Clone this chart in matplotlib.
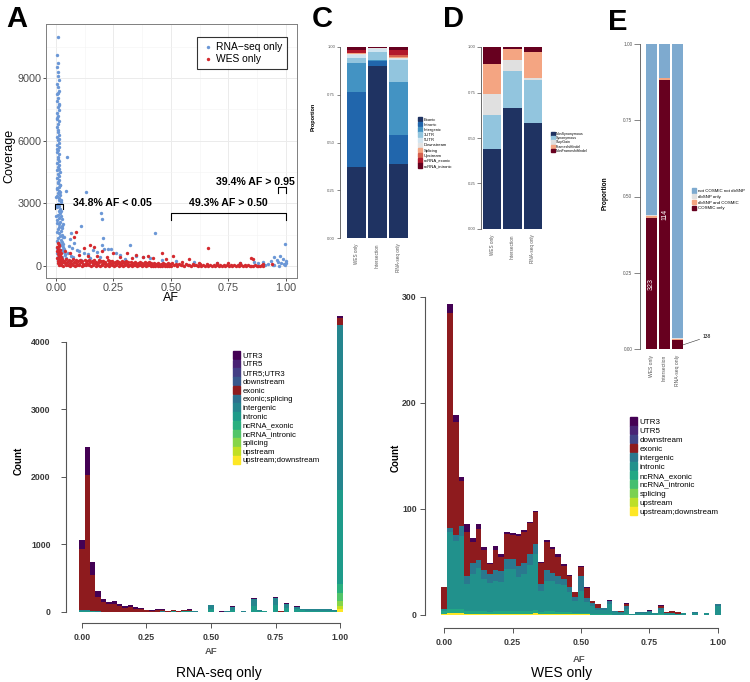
import numpy as np
import matplotlib
matplotlib.use("Agg")
import matplotlib.pyplot as plt
from matplotlib.patches import Patch

plt.rcParams['font.family'] = ['Liberation Sans', 'DejaVu Sans']

# ---------------- data ----------------
# A: coverage vs allele fraction
rna_af = [0.008, 0.006, 0.010, 0.005, 0.009, 0.007, 0.011, 0.004, 0.008, 0.012,
          0.006, 0.009, 0.005, 0.011, 0.007, 0.013, 0.004, 0.009, 0.006, 0.012,
          0.008, 0.005, 0.010, 0.007, 0.013, 0.004, 0.009, 0.011, 0.006, 0.014,
          0.008, 0.005, 0.012, 0.010, 0.007, 0.015, 0.004, 0.011, 0.009, 0.013,
          0.006, 0.016, 0.008, 0.012, 0.005, 0.014, 0.010, 0.007, 0.017, 0.011,
          0.004, 0.013, 0.009, 0.018, 0.006, 0.015, 0.011, 0.020, 0.008, 0.014,
          0.005, 0.019, 0.012, 0.016, 0.009, 0.022, 0.013, 0.006, 0.018, 0.011,
          0.024, 0.015, 0.008, 0.020, 0.013, 0.026, 0.017, 0.010, 0.023, 0.028,
          0.015, 0.021, 0.030, 0.012, 0.025, 0.034, 0.018, 0.038, 0.027, 0.042,
          0.022, 0.050,
          0.016, 0.003, 0.019, 0.002, 0.021, 0.003, 0.023, 0.002, 0.025, 0.003,
          0.027, 0.004, 0.029, 0.005, 0.032, 0.006, 0.036, 0.004, 0.040, 0.007,
          0.045, 0.010, 0.003, 0.015, 0.003, 0.014, 0.010,
          0.046, 0.043, 0.130, 0.196, 0.200, 0.204, 0.110, 0.430, 0.060, 0.080,
          0.055, 0.070, 0.090, 0.100, 0.120, 0.140, 0.160, 0.180, 0.210, 0.225,
          0.240, 0.260, 0.280, 0.320, 0.350, 0.380, 0.410, 0.460, 0.520, 0.600,
          0.700, 0.800, 0.860, 0.880, 0.900, 0.920, 0.935, 0.950, 0.960, 0.965,
          0.975, 0.980, 0.985, 0.990, 0.995, 0.998, 1.000, 0.997, 0.945, 0.970,
          0.050, 0.065, 0.035, 0.030, 0.075, 0.150, 0.190, 0.300, 0.110, 0.065,
          0.200, 0.950, 0.910]
rna_cov = [10950, 10100, 9730, 9500, 9280, 9080, 8900, 8720, 8550, 8380,
           8220, 8060, 7900, 7750, 7600, 7460, 7320, 7180, 7050, 6920,
           6790, 6650, 6520, 6400, 6280, 6150, 6020, 5900, 5790, 5680,
           5560, 5450, 5340, 5230, 5120, 5030, 4940, 4850, 4750, 4660,
           4570, 4480, 4400, 4310, 4220, 4130, 4040, 3950, 3870, 3780,
           3690, 3600, 3510, 3420, 3330, 3240, 3160, 3070, 2980, 2890,
           2810, 2720, 2630, 2540, 2460, 2370, 2280, 2200, 2110, 2020,
           1930, 1850, 1760, 1670, 1590, 1500, 1420, 1330, 1250, 1160,
           1080, 990, 910, 830, 750, 660, 580, 510, 420, 340,
           260, 180,
           3900, 3750, 3550, 3300, 3150, 2900, 2650, 2400, 2250, 2050,
           1800, 1650, 1380, 1200, 1050, 880, 800, 620, 560, 450,
           380, 300, 5600, 6100, 7100, 7700, 8300,
           5230, 3600, 3530, 2525, 2240, 1360, 1900, 1560, 1300, 1100,
           950, 850, 780, 700, 620, 560, 760, 680, 820, 800,
           790, 640, 540, 1000, 470, 420, 380, 300, 250, 180,
           150, 130, 200, 120, 180, 90, 260, 420, 310, 200,
           480, 140, 350, 80, 1045, 220, 130, 40, 60, 20,
           600, 500, 1400, 2000, 450, 400, 450, 350, 300, 1600,
           1000, 30, 50]

wes_af = [0.008, 0.012, 0.006, 0.015, 0.010, 0.018, 0.005, 0.013, 0.020, 0.008,
          0.016, 0.011, 0.022, 0.006, 0.014, 0.019, 0.009, 0.024, 0.012, 0.017,
          0.007, 0.021, 0.015,
          0.087, 0.080, 0.150, 0.165, 0.120, 0.200, 0.250, 0.310, 0.350, 0.380,
          0.400, 0.460, 0.510, 0.580, 0.660, 0.850, 0.855, 0.040, 0.060, 0.100,
          0.140, 0.180, 0.220, 0.280, 0.330, 0.420, 0.480, 0.550, 0.620, 0.700,
          0.750, 0.800, 0.900, 0.940,
          0.025, 0.029, 0.022, 0.035, 0.039, 0.032, 0.045, 0.049, 0.042, 0.055, 0.059, 0.052,
          0.065, 0.069, 0.062, 0.075, 0.079, 0.072, 0.085, 0.089, 0.082, 0.095, 0.099, 0.092,
          0.105, 0.109, 0.102, 0.115, 0.119, 0.112, 0.125, 0.129, 0.122, 0.135, 0.139, 0.132,
          0.145, 0.149, 0.142, 0.155, 0.159, 0.152, 0.165, 0.169, 0.162, 0.175, 0.179, 0.172,
          0.185, 0.189, 0.182, 0.195, 0.199, 0.192, 0.205, 0.209, 0.202, 0.215, 0.219, 0.212,
          0.225, 0.229, 0.222, 0.235, 0.239, 0.232, 0.245, 0.249, 0.242, 0.255, 0.259, 0.252,
          0.265, 0.269, 0.262, 0.275, 0.279, 0.272, 0.285, 0.289, 0.282, 0.295, 0.299, 0.292,
          0.305, 0.309, 0.302, 0.315, 0.319, 0.312, 0.325, 0.329, 0.322, 0.335, 0.339, 0.332,
          0.345, 0.349, 0.342, 0.355, 0.359, 0.352, 0.365, 0.369, 0.362, 0.375, 0.379, 0.372,
          0.385, 0.389, 0.382, 0.395, 0.399, 0.392, 0.405, 0.409, 0.402, 0.415, 0.419, 0.412,
          0.425, 0.429, 0.422, 0.435, 0.439, 0.432, 0.445, 0.449, 0.442, 0.455, 0.459, 0.452,
          0.465, 0.469, 0.462, 0.475, 0.479, 0.472, 0.485, 0.489, 0.482, 0.495, 0.499, 0.492,
          0.505, 0.512, 0.520, 0.527, 0.535, 0.542, 0.550, 0.557, 0.565, 0.572,
          0.580, 0.587, 0.595, 0.602, 0.610, 0.617, 0.625, 0.632, 0.640, 0.647,
          0.655, 0.662, 0.670, 0.677, 0.685, 0.692, 0.700, 0.707, 0.715, 0.722,
          0.730, 0.737, 0.745, 0.752, 0.760, 0.767, 0.775, 0.782, 0.790, 0.797,
          0.805, 0.812, 0.820, 0.827, 0.835, 0.842, 0.850, 0.857, 0.865, 0.872,
          0.880, 0.887, 0.895, 0.902]
wes_cov = [1100, 1000, 900, 950, 820, 760, 700, 650, 620, 560,
           520, 460, 430, 380, 340, 300, 260, 240, 200, 150,
           120, 90, 60,
           1620, 1390, 1000, 900, 850, 700, 620, 640, 550, 420,
           480, 640, 480, 330, 880, 400, 350, 700, 600, 550,
           500, 480, 450, 430, 390, 360, 320, 200, 160, 140,
           120, 150, 110, 90,
           330, 180, 40, 260, 120, 10, 350, 210, 70, 290, 150, 30,
           240, 100, 15, 320, 190, 60, 270, 130, 20, 230, 90, 40,
           300, 170, 50, 250, 110, 10, 280, 160, 70, 220, 90, 30,
           310, 180, 40, 240, 120, 10, 270, 150, 60, 210, 100, 20,
           290, 170, 50, 230, 110, 10, 260, 140, 60, 200, 90, 20,
           280, 160, 40, 220, 110, 15, 250, 130, 55, 190, 80, 20,
           240, 140, 45, 200, 100, 10, 230, 120, 50, 180, 80, 20,
           220, 110, 40, 170, 70, 15, 210, 100, 45, 160, 60, 10,
           200, 90, 40, 150, 60, 15, 190, 90, 35, 140, 50, 10,
           180, 80, 30, 130, 40, 10, 170, 70, 25, 120, 40, 5,
           160, 60, 20, 110, 30, 5, 150, 60, 20, 100, 30, 5,
           140, 50, 15, 90, 30, 5, 130, 50, 15, 80, 20, 5,
           120, 30, 90, 15, 110, 40, 70, 10, 100, 30,
           60, 10, 90, 25, 55, 10, 80, 20, 50, 5,
           75, 20, 45, 5, 70, 15, 40, 5, 65, 15,
           35, 5, 60, 15, 30, 5, 55, 10, 30, 5,
           50, 10, 25, 5, 45, 10, 20, 5, 40, 10,
           20, 5, 35, 10]

# B: stacked AF histograms, 49 bins centred on 0, 1/48, ..., 1
rna_cats = ['UTR3', 'UTR5', 'UTR5;UTR3', 'downstream', 'exonic', 'exonic;splicing',
            'intergenic', 'intronic', 'ncRNA_exonic', 'ncRNA_intronic', 'splicing',
            'upstream', 'upstream;downstream']
rna_utr3 = [138, 419, 192, 88, 49, 35, 40, 29, 25, 25, 20, 20, 8, 5, 8, 10, 2, 5, 1, 5,
            8, 3, 0, 0, 5, 0, 1, 1, 5, 0, 1, 0, 8, 1, 1, 0, 8, 0, 4, 0,
            3, 2, 1, 1, 1, 1, 1, 1, 40]
rna_exonic = [906, 2004, 537, 210, 140, 105, 115, 78, 58, 68, 44, 39, 22, 15, 25, 25, 8, 10, 3, 10,
              10, 5, 1, 0, 3, 0, 1, 2, 3, 0, 2, 0, 4, 2, 1, 0, 4, 1, 3, 0,
              2, 2, 1, 1, 2, 2, 1, 1, 100]
rna_intergenic = [10, 10, 6, 4, 3, 3, 3, 2, 2, 2, 2, 2, 2, 2, 3, 4, 2, 9, 3, 7,
                  10, 5, 2, 0, 50, 0, 3, 5, 38, 0, 5, 0, 95, 13, 10, 0, 105, 3, 60, 0,
                  38, 22, 18, 18, 20, 20, 18, 15, 2450]
rna_intronic = [10, 10, 6, 4, 2, 2, 2, 2, 2, 2, 1, 1, 1, 2, 2, 4, 2, 9, 2, 7,
                10, 6, 1, 0, 45, 0, 2, 5, 34, 0, 5, 0, 90, 12, 9, 0, 100, 3, 60, 0,
                37, 22, 18, 18, 20, 20, 18, 16, 1380]
rna_ncrna_exonic = [6, 6, 4, 2, 2, 2, 2, 1, 1, 1, 1, 1, 1, 1, 1, 1, 1, 1, 1, 1,
                    1, 1, 1, 0, 3, 0, 1, 1, 2, 0, 1, 0, 3, 1, 1, 0, 3, 1, 2, 0,
                    2, 1, 1, 1, 1, 1, 1, 1, 140]
# the remaining classes only show up in the AF = 1 bin
rna_last_bin = {'ncRNA_intronic': 120, 'splicing': 70, 'upstream': 50, 'upstream;downstream': 40}

wes_cats = ['UTR3', 'UTR5', 'downstream', 'exonic', 'intergenic', 'intronic',
            'ncRNA_exonic', 'ncRNA_intronic', 'splicing', 'upstream', 'upstream;downstream']
wes_utr3 = [0, 8, 6, 4, 8, 4, 5, 3, 1, 4, 2, 2, 2, 2, 2, 1, 1, 1, 2, 2,
            2, 2, 1, 0, 1, 1, 0, 0, 0, 1, 0, 0, 1, 0, 0, 0, 1, 0, 1, 0,
            0, 0, 0, 0, 0, 0, 0, 0, 0]
wes_exonic = [20, 203, 107, 42, 41, 20, 29, 19, 9, 19, 14, 23, 22, 28, 29, 30, 30, 20, 27, 22,
              18, 12, 11, 5, 8, 9, 2, 3, 0, 0, 0, 1, 2, 0, 0, 0, 0, 0, 1, 1,
              2, 2, 0, 0, 0, 0, 0, 0, 0]
wes_intergenic = [0, 4, 5, 10, 8, 10, 8, 8, 9, 10, 10, 10, 10, 10, 10, 10, 10, 6, 10, 8,
                  8, 6, 4, 4, 14, 4, 3, 2, 2, 3, 1, 1, 2, 0, 1, 1, 1, 0, 2, 0,
                  0, 0, 0, 0, 1, 0, 0, 0, 2]
wes_intronic = [2, 72, 64, 68, 25, 35, 40, 30, 27, 28, 27, 39, 39, 32, 35, 43, 52, 20, 28, 28,
                26, 25, 19, 11, 21, 10, 7, 4, 4, 9, 3, 2, 5, 1, 2, 2, 3, 2, 4, 2,
                2, 1, 2, 0, 2, 0, 2, 0, 8]
wes_ncrna_exonic = [3, 4, 4, 4, 3, 3, 3, 3, 2, 3, 3, 3, 3, 3, 3, 3, 3, 2, 3, 3,
                    2, 2, 2, 1, 1, 1, 1, 1, 1, 1, 0, 0, 1, 0, 0, 0, 0, 0, 1, 0,
                    0, 0, 0, 0, 0, 0, 0, 0, 0]
wes_updown = [1, 2, 2, 2, 1, 1, 1, 1, 1, 1, 1, 1, 1, 1, 1, 1, 2, 1, 1, 1,
              1, 1, 1, 1, 1, 1, 0, 0, 0, 0, 0, 0, 0, 0, 0, 0, 0, 0, 0, 0,
              0, 0, 0, 0, 0, 0, 0, 0, 0]

# C, D, E: proportions per group
groups = ['WES only', 'Intersection', 'RNA-seq only']
c_cats = ['Exonic', 'Intronic', 'Intergenic', '3UTR', '5UTR', 'Downstream',
          'Splicing', 'Upstream', 'ncRNA_exonic', 'ncRNA_intronic']
c_wes = [0.373, 0.389, 0.156, 0.022, 0.020, 0.003, 0.003, 0.004, 0.014, 0.016]
c_inter = [0.898, 0.028, 0.004, 0.042, 0.015, 0.007, 0.001, 0.001, 0.001, 0.003]
c_rna = [0.390, 0.150, 0.275, 0.117, 0.004, 0.005, 0.007, 0.009, 0.026, 0.017]

d_cats = ['NonSynonymous', 'Synonymous', 'StopGain', 'FrameshiftIndel', 'NonFrameshiftIndel']
d_wes = [0.437, 0.188, 0.117, 0.167, 0.091]
d_inter = [0.665, 0.203, 0.059, 0.060, 0.013]
d_rna = [0.585, 0.235, 0.012, 0.141, 0.027]

e_cats = ['COSMIC only', 'dbSNP and COSMIC', 'dbSNP only', 'not COSMIC not dbSNP']
e_wes = [0.428, 0.008, 0.002, 0.562]
e_inter = [0.882, 0.008, 0.000, 0.110]
e_rna = [0.030, 0.004, 0.002, 0.964]
e_counts = [323, 114, 138]

# ---------------- styles ----------------
BLUE = '#6b97d6'
RED = '#d42a2f'
EXON_RED = '#8e1b1e'
c_colors = ['#1f3362', '#2166ac', '#4393c3', '#92c5de', '#d1e5f0', '#e3e3e3',
            '#f4a582', '#d6604d', '#b2182b', '#67001f']
d_colors = ['#1f3362', '#92c5de', '#e0e0e0', '#f4a582', '#67001f']
e_colors = ['#67001f', '#f4a582', '#e0e0e0', '#7eaacf']

W, H = 750, 682
fig = plt.figure(figsize=(7.5, 6.82), dpi=100)


def px_axes(l, t, r, b):
    return fig.add_axes([l / W, 1 - b / H, (r - l) / W, (b - t) / H])


def fx(x):
    return x / W


def fy(y):
    return 1 - y / H


# ---------------- panel A ----------------
ax = px_axes(46, 24, 297, 278)
ax.scatter(rna_af, rna_cov, s=6, color=BLUE, lw=0, label='RNA\u2212seq only', zorder=2)
ax.scatter(wes_af, wes_cov, s=6, color=RED, lw=0, label='WES only', zorder=3)
ax.set_xlim(-0.0435, 1.048)
ax.set_ylim(-574, 11580)
ax.set_xticks([0, 0.25, 0.5, 0.75, 1.0])
ax.set_xticklabels(['0.00', '0.25', '0.50', '0.75', '1.00'])
ax.set_yticks([0, 3000, 6000, 9000])
ax.set_xticks([0.125, 0.375, 0.625, 0.875], minor=True)
ax.set_yticks([1500, 4500, 7500, 10500], minor=True)
ax.grid(which='major', color='#ebebeb', lw=0.7)
ax.grid(which='minor', color='#f3f3f3', lw=0.4)
ax.set_axisbelow(True)
ax.tick_params(which='minor', length=0)
ax.tick_params(which='major', length=2.5, width=0.6, color='#333333',
               labelsize=7.8, labelcolor='#4d4d4d', pad=0.8)
for s in ax.spines.values():
    s.set_color('#7f7f7f')
    s.set_linewidth(0.7)
fig.text(fx(9), fy(156), 'Coverage', rotation=90, ha='center', va='center', fontsize=9)
fig.text(fx(171), fy(292), 'AF', ha='center', va='top', fontsize=9)

leg = ax.legend(loc='upper right', bbox_to_anchor=((287 - 46) / 251, 1 - (37 - 24) / 254),
                fontsize=7.4, frameon=True, fancybox=False, edgecolor='black',
                handletextpad=0.2, borderpad=0.45, labelspacing=0.25, handlelength=1.2,
                borderaxespad=0)
leg.get_frame().set_linewidth(0.8)


def bracket(x0, x1, ytop, ybot):
    ax.plot([x0, x0, x1, x1], [ybot, ytop, ytop, ybot], color='black', lw=0.8, zorder=4)


bracket(-0.003, 0.032, 2970, 2730)
bracket(0.5, 1.0, 2520, 2200)
bracket(0.967, 1.0, 3765, 3480)
ax.text(0.072, 3000, '34.8% AF < 0.05', fontsize=7.6, fontweight='bold', ha='left', va='center')
ax.text(0.75, 3000, '49.3% AF > 0.50', fontsize=7.6, fontweight='bold', ha='center', va='center')
ax.text(0.868, 4030, '39.4% AF > 0.95', fontsize=7.6, fontweight='bold', ha='center', va='center')

# ---------------- panel B ----------------
centers = np.linspace(0, 1, 49)
# viridis over the non-exonic classes, exonic shown in dark red
vir_rna = [plt.cm.viridis(v) for v in np.linspace(0, 1, 12)]
vir_rna.insert(4, EXON_RED)
vir_wes = [plt.cm.viridis(v) for v in np.linspace(0, 1, 11)]
vir_wes[3] = EXON_RED


def stack(axh, layers, colors):
    bottom = np.zeros(len(centers))
    for vals, col in zip(layers, colors):
        vals = np.asarray(vals, dtype=float)
        axh.bar(centers, vals, width=1 / 48, bottom=bottom, color=col, lw=0, align='center')
        bottom += vals


def r_axes(axh, ymax, ystep, ypad):
    for s in ['top', 'right']:
        axh.spines[s].set_visible(False)
    axh.spines['left'].set_bounds(0, ymax)
    axh.spines['bottom'].set_bounds(0, 1)
    for s in ['left', 'bottom']:
        axh.spines[s].set_color('#555555')
        axh.spines[s].set_linewidth(0.8)
    axh.set_yticks(np.arange(0, ymax + 1, ystep))
    axh.set_xticks([0, 0.25, 0.5, 0.75, 1.0])
    axh.set_xticklabels(['0.00', '0.25', '0.50', '0.75', '1.00'])
    axh.tick_params(length=3.5, width=0.7, color='#555555', labelsize=6.3, labelcolor='#3a3a3a')
    axh.tick_params(axis='y', pad=ypad)
    axh.tick_params(axis='x', pad=4)
    for lab in axh.get_xticklabels() + axh.get_yticklabels():
        lab.set_fontweight('bold')


def last_only(v):
    vals = np.zeros(49)
    vals[-1] = v
    return vals


# left: RNA-seq only, stacked from the bottom class upwards
axl = px_axes(66, 300, 356, 623)
zero = np.zeros(49)
rna_layers = [last_only(rna_last_bin['upstream;downstream']), last_only(rna_last_bin['upstream']),
              last_only(rna_last_bin['splicing']), last_only(rna_last_bin['ncRNA_intronic']),
              rna_ncrna_exonic, rna_intronic, rna_intergenic, zero, rna_exonic,
              zero, zero, zero, rna_utr3]
stack(axl, rna_layers, vir_rna[::-1])
axl.set_xlim(-0.062, 1.062)
axl.set_ylim(-163, 4622)
r_axes(axl, 4000, 1000, 7.5)
axl.legend([Patch(color=c) for c in vir_rna], rna_cats, loc='upper left',
           bbox_to_anchor=(fx(233), fy(351)), bbox_transform=fig.transFigure,
           fontsize=5.6, frameon=False, handlelength=0.9, handleheight=1.25,
           labelspacing=0.0, handletextpad=0.3, borderpad=0, borderaxespad=0)
fig.text(fx(19), fy(461), 'Count', rotation=90, ha='center', va='center', fontsize=7, fontweight='bold')
fig.text(fx(211), fy(652), 'AF', ha='center', va='center', fontsize=6.8, fontweight='bold', color='#555555')
fig.text(fx(219), fy(673), 'RNA-seq only', ha='center', va='center', fontsize=10)

# right: WES only
axr = px_axes(425, 285, 735, 628)
wes_layers = [wes_updown, zero, zero, zero, wes_ncrna_exonic, wes_intronic, wes_intergenic,
              wes_exonic, zero, zero, wes_utr3]
stack(axr, wes_layers, vir_wes[::-1])
axr.set_xlim(-0.0706, 1.063)
axr.set_ylim(-12.3, 311)
r_axes(axr, 300, 100, 2.5)
axr.legend([Patch(color=c) for c in vir_wes], wes_cats, loc='upper left',
           bbox_to_anchor=(fx(630), fy(417)), bbox_transform=fig.transFigure,
           fontsize=5.8, frameon=False, handlelength=0.9, handleheight=1.25,
           labelspacing=0.0, handletextpad=0.3, borderpad=0, borderaxespad=0)
fig.text(fx(396), fy(458), 'Count', rotation=90, ha='center', va='center', fontsize=7, fontweight='bold')
fig.text(fx(579), fy(659), 'AF', ha='center', va='center', fontsize=6.8, fontweight='bold', color='#555555')
fig.text(fx(562), fy(673), 'WES only', ha='center', va='center', fontsize=10)

# ---------------- panels C, D, E ----------------
def prop_panel(box, xlim, cols, colors, width, tick_len, xfs):
    axp = px_axes(*box)
    bottom = np.zeros(3)
    for i, col in enumerate(colors):
        vals = np.array([cols[0][i], cols[1][i], cols[2][i]])
        axp.bar(range(3), vals, width, bottom=bottom, color=col, lw=0)
        bottom += vals
    axp.set_xlim(*xlim)
    axp.set_ylim(0, 1)
    for s in ['top', 'right', 'bottom']:
        axp.spines[s].set_visible(False)
    axp.spines['left'].set_color('#555555')
    axp.spines['left'].set_linewidth(0.6)
    axp.set_yticks([0, 0.25, 0.5, 0.75, 1.0])
    axp.set_yticklabels(['0.00', '0.25', '0.50', '0.75', '1.00'])
    axp.set_xticks(range(3))
    axp.set_xticklabels(groups, rotation=90, va='top', ha='center')
    axp.tick_params(axis='y', length=tick_len, width=0.5, color='#555555',
                    labelsize=3, labelcolor='#555555', pad=1)
    axp.tick_params(axis='x', length=0, labelsize=xfs, labelcolor='#555555', pad=4)
    return axp


prop_panel((340, 47, 413, 238), (-0.78, 2.7), [c_wes, c_inter, c_rna], c_colors, 0.9, 2.5, 3.3)
fig.text(fx(313), fy(117), 'Proportion', rotation=90, ha='center', va='center', fontsize=4, fontweight='bold')
fig.legend([Patch(color=c) for c in c_colors], c_cats, loc='upper left',
           bbox_to_anchor=(fx(418), fy(117)), fontsize=3, frameon=False,
           handlelength=1.0, handleheight=1.2, labelspacing=0.15, handletextpad=0.4,
           borderpad=0, borderaxespad=0)

prop_panel((481, 47, 544, 229), (-0.55, 2.55), [d_wes, d_inter, d_rna], d_colors, 0.9, 3, 3.3)
fig.legend([Patch(color=c) for c in d_colors], d_cats, loc='upper left',
           bbox_to_anchor=(fx(551), fy(132)), fontsize=2.6, frameon=False,
           handlelength=1.0, handleheight=1.1, labelspacing=0.05, handletextpad=0.4,
           borderpad=0, borderaxespad=0)

axe = prop_panel((640, 44, 689, 349), (-0.88, 2.88), [e_wes, e_inter, e_rna], e_colors, 0.85, 4, 3.6)
axe.tick_params(axis='y', labelsize=3.4, pad=1.5)
fig.text(fx(605.5), fy(193), 'Proportion', rotation=90, ha='center', va='center', fontsize=4.7, fontweight='bold')
fig.legend([Patch(color=c) for c in e_colors[::-1]], e_cats[::-1], loc='upper left',
           bbox_to_anchor=(fx(692), fy(188)), fontsize=3.2, frameon=False,
           handlelength=1.0, handleheight=1.2, labelspacing=0.25, handletextpad=0.4,
           borderpad=0, borderaxespad=0)
cosmic = [e_wes[0], e_inter[0], e_rna[0]]
axe.text(0, cosmic[0] / 2, str(e_counts[0]), rotation=90, color='white', fontsize=5,
         ha='center', va='center')
axe.text(1, cosmic[1] / 2, str(e_counts[1]), rotation=90, color='white', fontsize=5,
         ha='center', va='center')
axe.annotate(str(e_counts[2]), xy=(2.42, cosmic[2] * 0.45), xytext=(3.96, 0.04),
             fontsize=3.6, ha='left', va='center', annotation_clip=False,
             arrowprops=dict(arrowstyle='-', lw=0.4, color='#333333', shrinkA=0.5, shrinkB=0))

# ---------------- panel letters ----------------
for lab, x, y in [('A', 6, 27), ('B', 8, 327), ('C', 312, 27), ('D', 443, 27), ('E', 608, 30)]:
    fig.text(fx(x), fy(y), lab, fontsize=21, fontweight='bold', ha='left', va='baseline')

fig.savefig('out.png', dpi=100)
